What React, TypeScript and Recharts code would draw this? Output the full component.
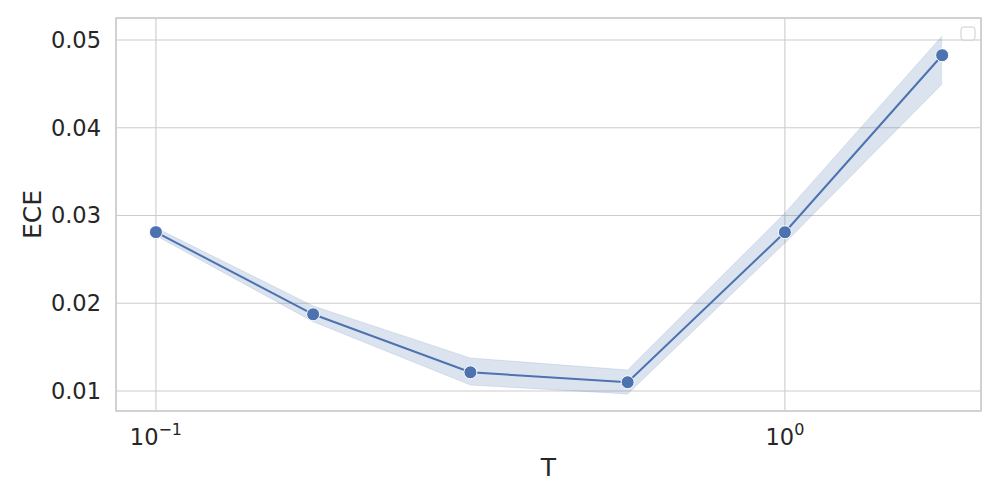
import React from "react";
import {
  Area,
  CartesianGrid,
  ComposedChart,
  Customized,
  Label,
  Line,
  ReferenceArea,
  XAxis,
  YAxis,
} from "recharts";

// temperature values (log spaced) and ECE readings
const temps = [0.1, 0.1778, 0.3162, 0.5623, 1.0, 1.7783];
const eceMean = [0.0281, 0.01874, 0.01213, 0.0110, 0.02809, 0.04826];
const eceLow = [0.0277, 0.0179, 0.01068, 0.00966, 0.02687, 0.04499];
const eceHigh = [0.0286, 0.01969, 0.01376, 0.01239, 0.03028, 0.05046];

const xTicks = [0.1, 1];
const yTicks = [0.01, 0.02, 0.03, 0.04, 0.05];

const data = temps.map((t, i) => ({
  t,
  ece: eceMean[i],
  band: [eceLow[i], eceHigh[i]],
}));

const FONT = "DejaVu Sans, sans-serif";
const TEXT = "#262626";
const GRID = "#cccccc";
const BLUE = "#4c72b0";

const XTick = ({ x, y, payload }: any) => {
  const exp = Math.round(Math.log10(payload.value));
  const sup = exp < 0 ? `\u2212${Math.abs(exp)}` : `${exp}`;
  return (
    <text x={x} y={y + 34} textAnchor="middle" fontFamily={FONT} fontSize={22.5} fill={TEXT}>
      10
      <tspan dy={-10} fontSize={16}>
        {sup}
      </tspan>
    </text>
  );
};

const YTick = ({ x, y, payload }: any) => (
  <text x={x - 15} y={y + 8} textAnchor="end" fontFamily={FONT} fontSize={22.5} fill={TEXT}>
    {payload.value.toFixed(2)}
  </text>
);

const App = () => {
  return (
    <div style={{ position: "absolute", left: 0, top: 0, background: "#fff" }}>
      <ComposedChart
        width={1000}
        height={500}
        data={data}
        margin={{ top: 18, right: 19, bottom: 0, left: 0 }}
      >
        <CartesianGrid stroke={GRID} strokeWidth={1.1} />
        <XAxis
          dataKey="t"
          type="number"
          scale="log"
          domain={[0.0864, 2.05]}
          ticks={xTicks}
          allowDataOverflow
          height={89}
          tickSize={0}
          tickMargin={0}
          axisLine={false}
          tickLine={false}
          tick={<XTick />}
        >
          <Label
            value="T"
            position="insideBottom"
            offset={24}
            fontFamily={FONT}
            fontSize={25}
            fill={TEXT}
          />
        </XAxis>
        <YAxis
          type="number"
          domain={[0.00772, 0.0525]}
          ticks={yTicks}
          allowDataOverflow
          width={116}
          tickSize={0}
          tickMargin={0}
          axisLine={false}
          tickLine={false}
          tick={<YTick />}
        >
          <Label
            content={({ viewBox }: any) => (
              <text
                x={viewBox.x + 41}
                y={viewBox.y + viewBox.height / 2}
                transform={`rotate(-90 ${viewBox.x + 41} ${viewBox.y + viewBox.height / 2})`}
                textAnchor="middle"
                fontFamily={FONT}
                fontSize={25}
                fill={TEXT}
              >
                ECE
              </text>
            )}
          />
        </YAxis>
        <ReferenceArea
          x1={0.0864}
          x2={2.05}
          y1={0.00772}
          y2={0.0525}
          fill="none"
          stroke={GRID}
          strokeWidth={1.5}
          ifOverflow="visible"
        />
        <Area
          dataKey="band"
          type="linear"
          fill={BLUE}
          fillOpacity={0.2}
          stroke={BLUE}
          strokeOpacity={0.15}
          isAnimationActive={false}
        />
        <Line
          dataKey="ece"
          type="linear"
          stroke={BLUE}
          strokeWidth={2}
          dot={{ r: 6.5, fill: BLUE, stroke: "#ffffff", strokeWidth: 1 }}
          activeDot={false}
          isAnimationActive={false}
        />
        <Customized
          component={() => (
            <rect
              x={961}
              y={27}
              width={14}
              height={13}
              rx={2.5}
              fill="#ffffff"
              stroke={GRID}
              strokeWidth={1}
            />
          )}
        />
      </ComposedChart>
    </div>
  );
};

export default App;
